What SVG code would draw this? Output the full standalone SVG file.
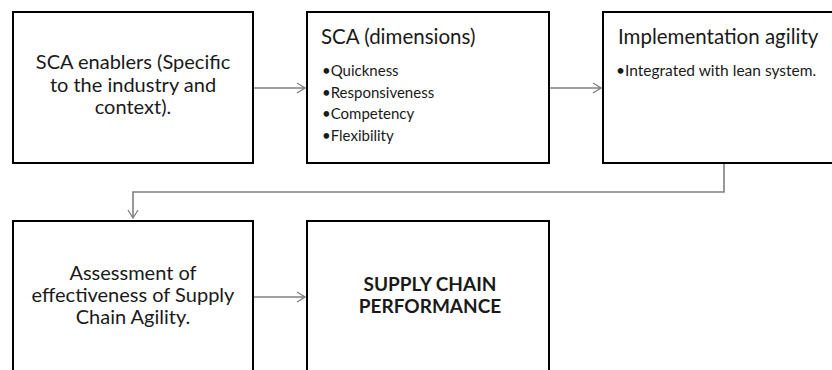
<svg xmlns="http://www.w3.org/2000/svg" width="832" height="370" viewBox="0 0 832 370">
  <style>
    .box { fill: #ffffff; stroke: #000000; stroke-width: 2; }
    .t { font-family: Lato, "Open Sans", "Liberation Sans", sans-serif; fill: #1a1a1a; }
    .big { font-size: 20px; }
    .head { font-size: 20.5px; }
    .mid { font-size: 15px; }
    .small { font-size: 15.5px; }
    .c { text-anchor: middle; }
    .b { font-weight: bold; font-size: 19px; }
    .link { fill: none; stroke: #808080; stroke-width: 1.6; marker-end: url(#chev); }
  </style>
  <defs>
    <marker id="chev" viewBox="0 0 10 12" refX="9" refY="6" markerWidth="10" markerHeight="12" markerUnits="userSpaceOnUse" orient="auto">
      <path d="M1,1 L9,6 L1,11" fill="none" stroke="#808080" stroke-width="1.3"/>
    </marker>
  </defs>
  <rect width="832" height="370" fill="#ffffff"/>

  <g id="connectors">
    <path class="link" d="M253,88 H305"/>
    <path class="link" d="M549,88 H601"/>
    <path class="link" d="M724,163 V192 H133 V218"/>
    <path class="link" d="M253,297 H305"/>
  </g>

  <g id="enablers">
    <rect class="box" x="13" y="12" width="240" height="151"/>
    <text class="t big c" x="133" y="69">SCA enablers (Specific</text>
    <text class="t big c" x="133" y="92">to the industry and</text>
    <text class="t big c" x="133" y="114">context).</text>
  </g>

  <g id="dimensions">
    <rect class="box" x="307" y="12" width="242" height="151"/>
    <text class="t head" x="321" y="44">SCA (dimensions)</text>
    <text class="t mid" x="322" y="76">•Quickness</text>
    <text class="t mid" x="322" y="98">•Responsiveness</text>
    <text class="t mid" x="322" y="119">•Competency</text>
    <text class="t mid" x="322" y="141">•Flexibility</text>
  </g>

  <g id="implementation">
    <rect class="box" x="603" y="12" width="240" height="151"/>
    <text class="t head" x="618" y="44">Implementation agility</text>
    <text class="t small" x="616" y="76">•Integrated with lean system.</text>
  </g>

  <g id="assessment">
    <rect class="box" x="13" y="221" width="240" height="160"/>
    <text class="t big c" x="133" y="280">Assessment of</text>
    <text class="t big c" x="133" y="302">effectiveness of Supply</text>
    <text class="t big c" x="133" y="324">Chain Agility.</text>
  </g>

  <g id="performance">
    <rect class="box" x="307" y="221" width="242" height="160"/>
    <text class="t c b" x="430" y="291">SUPPLY CHAIN</text>
    <text class="t c b" x="430" y="313">PERFORMANCE</text>
  </g>
</svg>
